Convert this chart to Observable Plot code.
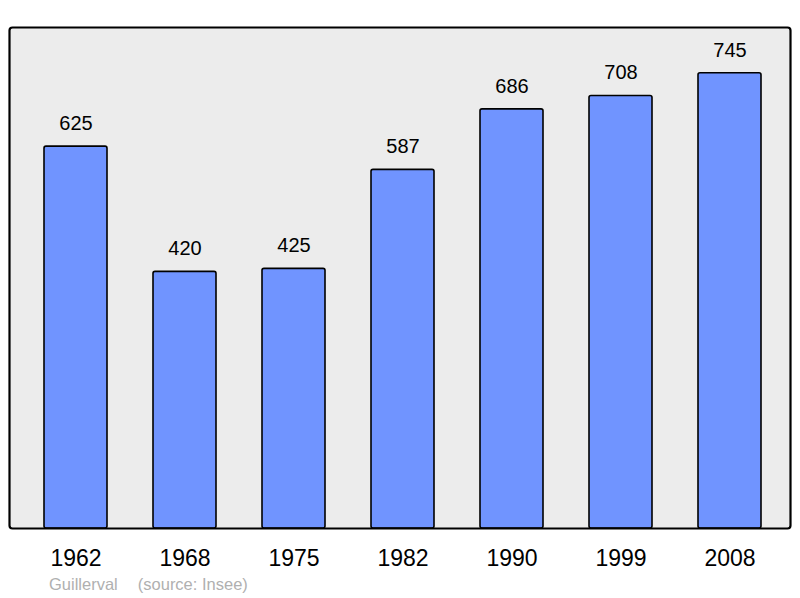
<!DOCTYPE html>
<html>
<head>
<meta charset="utf-8">
<script src="https://cdn.jsdelivr.net/npm/d3@7"></script>
<script src="https://cdn.jsdelivr.net/npm/@observablehq/plot@0.6"></script>
<style>
  body { margin: 0; background: #fff; font-family: "Liberation Sans", Arial, sans-serif; }
  #caption { margin: 5px 0 0 49px; font-size: 16.5px; line-height: 18px; color: #b0b0b0; white-space: pre; }
  #caption span { margin-left: 20px; }
</style>
</head>
<body>
<div id="chart"></div>
<div id="caption"></div>
<script>
const years = ["1962", "1968", "1975", "1982", "1990", "1999", "2008"];
const population = [625, 420, 425, 587, 686, 708, 745];
const commune = "Guillerval";
const source = "(source: Insee)";

const data = years.map((year, i) => ({year, value: population[i]}));

const chart = Plot.plot({
  width: 800,
  height: 570,
  marginTop: 27,
  marginBottom: 42,
  marginLeft: 9,
  marginRight: 10,
  style: {fontFamily: "'Liberation Sans', Arial, sans-serif", color: "black", background: "white"},
  x: {domain: years, paddingInner: 0.424, paddingOuter: 0.282, align: 0.54, label: null},
  y: {domain: [0, 820], axis: null},
  marks: [
    Plot.frame({fill: "#ececec", stroke: "none"}),
    Plot.barY(data, {x: "year", y: "value", fill: "#7094ff", stroke: "black", strokeWidth: 1.6, rx: 2}),
    Plot.text(data, {x: "year", y: "value", text: d => String(d.value), dy: -23, fontSize: 20, fill: "black"}),
    Plot.frame({stroke: "black", strokeWidth: 2.2, rx: 3}),
    Plot.axisX({tickSize: 0, tickPadding: 21, fontSize: 23, label: null})
  ]
});
document.getElementById("chart").appendChild(chart);
const cap = document.getElementById("caption");
cap.textContent = commune;
const s = document.createElement("span");
s.textContent = source;
cap.appendChild(s);
</script>
</body>
</html>
